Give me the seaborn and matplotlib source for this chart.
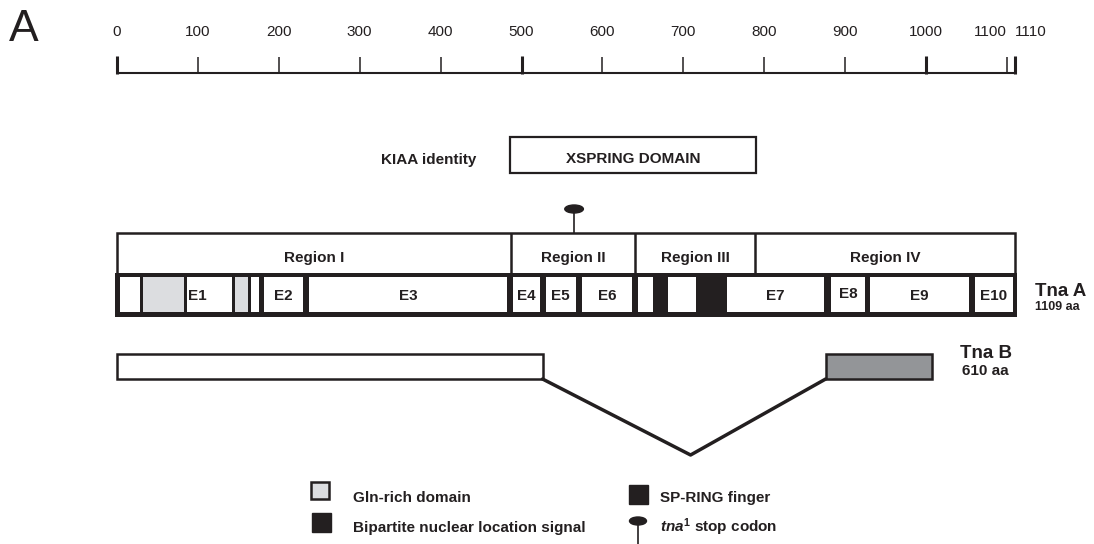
import matplotlib
matplotlib.use("Agg")
import matplotlib.pyplot as plt
from matplotlib.patches import Rectangle, Ellipse
import pandas as pd
import seaborn as sns

# ---------------- data (amino-acid coordinates) ----------------
scale_ticks = [0, 100, 200, 300, 400, 500, 600, 700, 800, 900, 1000, 1100, 1110]
major_ticks = [0, 500, 1000, 1110]

region_names = ["Region I", "Region II", "Region III", "Region IV"]
region_edges = [0, 487, 640, 789, 1110]

seg_start = [4, 32, 87, 146, 166, 182, 237, 490, 530, 575, 644, 681, 754, 883, 931, 1061]
seg_end = [28, 83, 142, 162, 175, 230, 482, 523, 567, 637, 662, 716, 874, 925, 1053, 1107]
seg_kind = ["plain", "gln", "plain", "gln", "plain", "plain", "plain", "plain",
            "plain", "plain", "plain", "plain", "plain", "plain", "plain", "plain"]
seg_label = ["", "", "E1", "", "", "E2", "E3", "E4", "E5", "E6", "", "", "E7", "E8", "E9", "E10"]

tna_a_extent = [0, 1110]
tna_b_start = [0, 876]
tna_b_end = [526, 1007]
tna_b_kind = ["plain", "gray"]
splice_x = [526, 709, 876]

xspring = [486, 790]
stop_codon_pos = 565

labels_tna_a = ["Tna A", "1109 aa"]
labels_tna_b = ["Tna B", "610 aa"]

# ---------------- style ----------------
sns.set_theme(style="white")
plt.rcParams["font.family"] = ["Liberation Sans", "DejaVu Sans"]
plt.rcParams["mathtext.fontset"] = "custom"
plt.rcParams["mathtext.it"] = "Liberation Sans:italic:bold"
plt.rcParams["mathtext.rm"] = "Liberation Sans:bold"

BLACK = "#231f20"
GLN = "#dcdde0"
GRAY = "#939598"

fig = plt.figure(figsize=(10.94, 5.44), dpi=100)
ax = fig.add_axes([0, 0, 1, 1])
PX0, PXU = 117.0, 0.809
ax.set_xlim(-PX0 / PXU, (1094 - PX0) / PXU)
ax.set_ylim(544, 0)
ax.set_axis_off()

# ---------------- panel letter ----------------
ax.text(-133.5, 41, "A", fontsize=32, ha="left", va="baseline", color=BLACK)

# ---------------- scale bar ----------------
ax.hlines(73, scale_ticks[0], scale_ticks[-1], color=BLACK, lw=1.5)
for t in scale_ticks:
    major = t in major_ticks
    ax.vlines(t, 56 if major else 57, 74, color=BLACK, lw=2.2 if major else 1.1)
    if t == 1100:
        ha = "right"
    elif t == 1110:
        ha = "left"
    else:
        ha = "center"
    ax.text(t, 36, str(t), fontsize=11, ha=ha, va="baseline", color=BLACK)

# ---------------- KIAA / XSPRING ----------------
ax.text(444, 164, "KIAA identity", fontsize=11, fontweight="bold",
        ha="right", va="baseline", color=BLACK)
ax.add_patch(Rectangle((xspring[0], 137), xspring[1] - xspring[0], 36,
                       facecolor="white", edgecolor=BLACK, lw=1.6))
ax.text((xspring[0] + xspring[1]) / 2, 163, "XSPRING DOMAIN", fontsize=11,
        fontweight="bold", ha="center", va="baseline", color=BLACK)

# stop codon
ax.vlines(stop_codon_pos, 211, 233, color=BLACK, lw=1.2)
ax.add_patch(Ellipse((stop_codon_pos, 209), 23, 8, facecolor=BLACK, edgecolor=BLACK))

# ---------------- regions ----------------
ax.add_patch(Rectangle((region_edges[0], 233), region_edges[-1] - region_edges[0], 42,
                       facecolor="white", edgecolor=BLACK, lw=1.8))
for e in region_edges[1:-1]:
    ax.vlines(e, 233, 274, color=BLACK, lw=1.8)
for i, name in enumerate(region_names):
    ax.text((region_edges[i] + region_edges[i + 1]) / 2, 262, name, fontsize=11,
            fontweight="bold", ha="center", va="baseline", color=BLACK)

# ---------------- Tna A ----------------
ax.add_patch(Rectangle((tna_a_extent[0] - 2, 273), tna_a_extent[1] - tna_a_extent[0] + 4, 44,
                       facecolor=BLACK, edgecolor="none"))
for s, e, k, lab in zip(seg_start, seg_end, seg_kind, seg_label):
    ax.add_patch(Rectangle((s, 277), e - s, 35, facecolor=GLN if k == "gln" else "white",
                           edgecolor="none"))
    if lab:
        if lab == "E1":
            ax.text(s + 1, 300, lab, fontsize=11, fontweight="bold", ha="left",
                    va="baseline", color=BLACK)
        else:
            ax.text((s + e) / 2, 298 if lab == "E8" else 300, lab, fontsize=11,
                    fontweight="bold", ha="center", va="baseline", color=BLACK)
ax.text(1135, 296, labels_tna_a[0], fontsize=13.5, fontweight="bold", ha="left",
        va="baseline", color=BLACK)
ax.text(1135, 310, labels_tna_a[1], fontsize=9, fontweight="bold", ha="left",
        va="baseline", color=BLACK)

# ---------------- Tna B ----------------
for s, e, k in zip(tna_b_start, tna_b_end, tna_b_kind):
    ax.add_patch(Rectangle((s, 354), e - s, 25, facecolor=GRAY if k == "gray" else "white",
                           edgecolor=BLACK, lw=1.8))
df_v = pd.DataFrame({"x": splice_x, "y": [379, 455, 379]})
sns.lineplot(data=df_v, x="x", y="y", sort=False, color=BLACK, lw=2.5, ax=ax,
             legend=False)
ax.set_axis_off()
ax.text(1042, 358, labels_tna_b[0], fontsize=13.5, fontweight="bold", ha="left",
        va="baseline", color=BLACK)
ax.text(1045, 375, labels_tna_b[1], fontsize=11, fontweight="bold", ha="left",
        va="baseline", color=BLACK)

# ---------------- legend ----------------
ax.add_patch(Rectangle((240, 482), 22, 17, facecolor=GLN, edgecolor=BLACK, lw=1.8))
ax.text(292, 502, "Gln-rich domain", fontsize=11, fontweight="bold", ha="left",
        va="baseline", color=BLACK)
ax.add_patch(Rectangle((241, 513), 23, 19, facecolor=BLACK, edgecolor=BLACK))
ax.text(292, 532, "Bipartite nuclear location signal", fontsize=11, fontweight="bold",
        ha="left", va="baseline", color=BLACK)
ax.add_patch(Rectangle((633, 485), 23, 19, facecolor=BLACK, edgecolor=BLACK))
ax.text(671, 502, "SP-RING finger", fontsize=11, fontweight="bold", ha="left",
        va="baseline", color=BLACK)
ax.vlines(644, 523, 544, color=BLACK, lw=1.2)
ax.add_patch(Ellipse((644, 521), 21, 8, facecolor=BLACK, edgecolor=BLACK))
ax.text(671, 532, r"$\mathit{tna^{1}}$ stop codon", fontsize=11, fontweight="bold",
        ha="left", va="baseline", color=BLACK)

fig.savefig("out.png", dpi=100, facecolor="white")
